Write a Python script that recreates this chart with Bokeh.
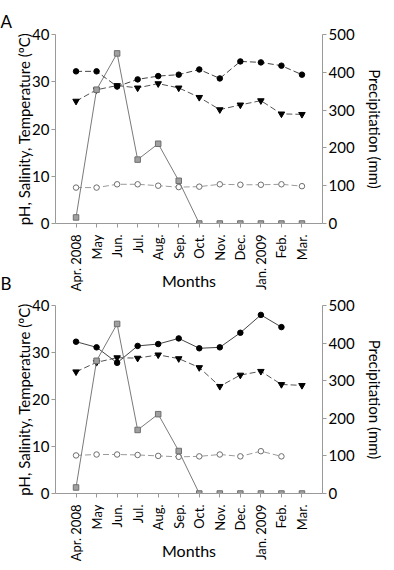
import math
from bokeh.plotting import figure
from bokeh.models import Range1d, LinearAxis, FixedTicker, Title
from bokeh.layouts import column
from bokeh.embed import file_html
from bokeh.resources import INLINE

NaN = float("nan")

months = ["Apr. 2008", "May", "Jun.", "Jul.", "Aug.", "Sep.", "Oct.", "Nov.",
          "Dec.", "Jan. 2009", "Feb.", "Mar."]
left_ticks = [0, 10, 20, 30, 40]
right_ticks = [0, 100, 200, 300, 400, 500]

# Panel A
a_salinity = [32.2, 32.2, 29.0, 30.5, 31.2, 31.5, 32.6, 30.7, 34.3, 34.1, 33.4, 31.5]
a_temperature = [25.9, 28.3, 29.2, 28.7, 29.6, 28.7, 26.7, 24.1, 25.1, 26.0, 23.2, 23.1]
a_ph = [7.6, 7.6, 8.3, 8.3, 8.0, 7.7, 7.8, 8.3, 8.2, 8.2, 8.3, 7.9]
a_precip = [16, 354, 450, 169, 211, 113, 0, 0, 0, 0, 0, 0]

# Panel B
b_salinity = [32.3, 31.1, 27.8, 31.4, 31.8, 33.0, 30.9, 31.1, 34.2, 38.0, 35.4, NaN]
b_temperature = [25.9, 27.9, 28.9, 28.8, 29.5, 28.7, 26.8, 22.8, 25.2, 26.0, 23.2, 23.0]
b_ph = [8.1, 8.3, 8.3, 8.2, 8.0, 7.8, 7.9, 8.3, 7.9, 9.0, 7.9, NaN]
b_precip = [16, 353, 451, 169, 211, 113, 0, 0, 0, 0, 0, 0]

FONT = "Lato"
AXC = "#9a9a9a"


def style_axis(ax, size="15px"):
    ax.axis_line_color = AXC
    ax.major_tick_line_color = AXC
    ax.minor_tick_line_color = None
    ax.major_tick_out = 4
    ax.major_tick_in = 0
    ax.major_label_text_font = FONT
    ax.major_label_text_font_size = size
    ax.major_label_text_color = "black"
    ax.axis_label_text_font = FONT
    ax.axis_label_text_font_size = "15px"
    ax.axis_label_text_font_style = "normal"
    ax.axis_label_text_color = "black"


def panel(sal, temp, ph, precip, height, top, bottom, sal_dash, letter):
    xs = list(range(len(months)))
    p = figure(width=386, height=height, output_backend="svg", toolbar_location=None,
               x_range=Range1d(-1, 12), y_range=Range1d(0, 40),
               min_border_left=55, min_border_right=57,
               min_border_top=top, min_border_bottom=bottom)
    p.outline_line_color = None
    p.xgrid.visible = False
    p.ygrid.visible = False
    p.background_fill_color = "white"
    p.border_fill_color = "white"
    p.extra_y_ranges = {"precip": Range1d(0, 500)}

    if letter:
        p.title.text = letter
        p.title.align = "left"
        p.title.offset = -55
        p.title.standoff = 5
        p.title.text_font = FONT
        p.title.text_font_size = "17px"
        p.title.text_font_style = "normal"
        p.title.text_color = "black"

    p.xaxis.ticker = FixedTicker(ticks=xs)
    p.xaxis.major_label_overrides = {i: m for i, m in enumerate(months)}
    p.xaxis.major_label_orientation = math.pi / 2
    p.xaxis.major_label_standoff = 7
    p.xaxis.axis_label = "Months"
    p.xaxis.axis_label_standoff = -23
    style_axis(p.xaxis[0], "13px")
    p.xaxis.axis_label_text_font_size = "16px"

    p.yaxis.ticker = FixedTicker(ticks=left_ticks)
    p.yaxis.axis_label = "pH, Salinity, Temperature (ºC)"
    p.yaxis.major_label_standoff = 2
    p.yaxis.axis_label_standoff = -4
    style_axis(p.yaxis[0])

    ra = LinearAxis(y_range_name="precip", ticker=FixedTicker(ticks=right_ticks),
                    axis_label="Precipitation (mm)")
    ra.major_label_standoff = 2
    ra.axis_label_standoff = 8
    style_axis(ra)
    p.add_layout(ra, "right")

    # pH (open circles)
    p.line(xs, ph, line_color="#9a9a9a", line_width=1, line_dash="6 3")
    p.scatter(xs, ph, marker="circle", size=5.5, fill_color="white", line_color="#6e6e6e", line_width=1)
    # temperature (inverted triangles)
    p.line(xs, temp, line_color="#555555", line_width=1, line_dash="6 3")
    p.scatter(xs, temp, marker="inverted_triangle", size=6.5, fill_color="black", line_color="black")
    # salinity (filled circles)
    p.line(xs, sal, line_color="#444444", line_width=1, line_dash=sal_dash)
    p.scatter(xs, sal, marker="circle", size=5.5, fill_color="black", line_color="black")
    # precipitation (grey squares)
    p.line(xs, precip, y_range_name="precip", line_color="#7a7a7a", line_width=1)
    p.scatter(xs, precip, y_range_name="precip", marker="square", size=5.5,
              fill_color="#a0a0a0", line_color="#6e6e6e", line_width=1)
    return p


pA = panel(a_salinity, a_temperature, a_ph, a_precip, 295, 34, 72, "6 3", "A")
pA.add_layout(Title(text="B", align="left", vertical_align="top", offset=-55, standoff=-42,
                    text_font=FONT, text_font_size="17px", text_font_style="normal",
                    text_color="black"),
              "below")
pB = panel(b_salinity, b_temperature, b_ph, b_precip, 275, 10, 77, "solid", "")

layout = column(pA, pB)
open("out.html", "w").write(file_html(layout, INLINE))
